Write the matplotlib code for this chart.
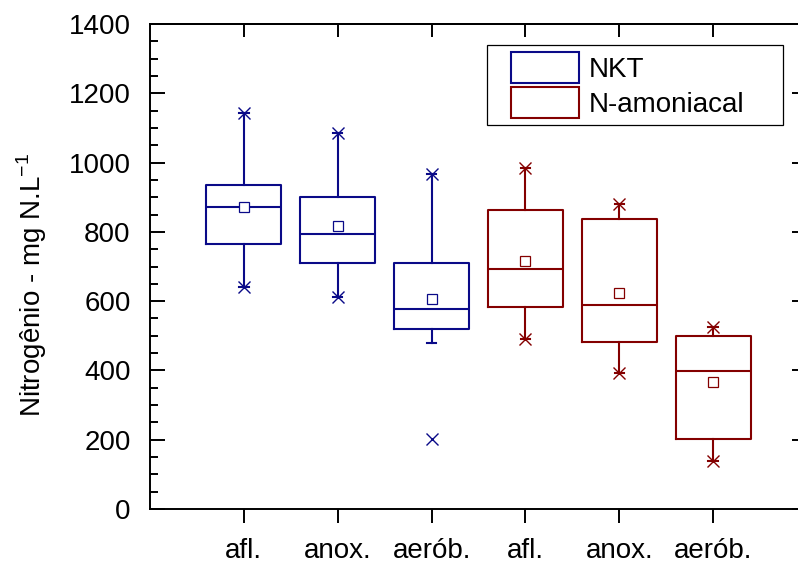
"""
Box plots of total Kjeldahl nitrogen (NKT) and ammonia nitrogen
at the inlet, anoxic and aerobic stages.
"""

import matplotlib
matplotlib.use("Agg")
import matplotlib.pyplot as plt
from matplotlib.patches import Rectangle
from matplotlib.legend_handler import HandlerPatch
from matplotlib.ticker import AutoMinorLocator, MultipleLocator

# ==============================
# DATA
# ==============================
CATEGORIES = ["afl.", "anox.", "aerób.", "afl.", "anox.", "aerób."]
SERIES_NAMES = ["NKT", "N-amoniacal"]

NKT_Q1 = [764, 711, 519]
NKT_MEDIAN = [871, 794, 577]
NKT_Q3 = [935, 900, 711]
NKT_WHISKER_LOW = [642, 611, 478]
NKT_WHISKER_HIGH = [1143, 1085, 966]
NKT_MEAN = [872, 818, 605]
NKT_MIN = [642, 611, 201]
NKT_MAX = [1143, 1085, 966]

AMON_Q1 = [582, 482, 203]
AMON_MEDIAN = [692, 589, 399]
AMON_Q3 = [862, 836, 500]
AMON_WHISKER_LOW = [490, 393, 139]
AMON_WHISKER_HIGH = [984, 881, 525]
AMON_MEAN = [716, 624, 367]
AMON_MIN = [490, 393, 139]
AMON_MAX = [984, 881, 525]

NKT_POSITIONS = [1, 2, 3]
AMON_POSITIONS = [4, 5, 6]

BLUE = "#0a0a88"
RED = "#840000"
FONT_SIZE = 20

plt.rcParams["font.family"] = ["Liberation Sans", "DejaVu Sans"]
plt.rcParams["font.size"] = FONT_SIZE
plt.rcParams["mathtext.fontset"] = "custom"
plt.rcParams["mathtext.rm"] = "Liberation Sans"


def build_stats(q1, med, q3, wlo, whi, mean):
    stats = []
    for i in range(len(q1)):
        stats.append({
            "q1": q1[i], "med": med[i], "q3": q3[i],
            "whislo": wlo[i], "whishi": whi[i],
            "mean": mean[i], "fliers": [],
        })
    return stats


def draw_group(ax, stats, positions, mins, maxs, color):
    line = dict(color=color, linewidth=1.5)
    ax.bxp(stats, positions=positions, widths=0.8, capwidths=0.1,
           showmeans=True, showfliers=False,
           boxprops=line, whiskerprops=line, capprops=line,
           medianprops=line,
           meanprops=dict(marker="s", markersize=6.8, markerfacecolor="white",
                          markeredgecolor=color, markeredgewidth=0.9))
    ax.plot(positions, mins, linestyle="none", marker="x", markersize=8,
            markeredgewidth=1.0, color=color)
    ax.plot(positions, maxs, linestyle="none", marker="x", markersize=8,
            markeredgewidth=1.0, color=color)


def legend_box(legend, orig_handle, xdescent, ydescent, width, height, fontsize):
    inset = 0.6 * fontsize
    return Rectangle((-xdescent + inset, -ydescent), width - inset, height)


fig = plt.figure(figsize=(7.98, 5.65), dpi=100)
ax = fig.add_axes([150 / 798, 56 / 565, 657 / 798, 485 / 565])

draw_group(ax, build_stats(NKT_Q1, NKT_MEDIAN, NKT_Q3, NKT_WHISKER_LOW,
                           NKT_WHISKER_HIGH, NKT_MEAN),
           NKT_POSITIONS, NKT_MIN, NKT_MAX, BLUE)
draw_group(ax, build_stats(AMON_Q1, AMON_MEDIAN, AMON_Q3, AMON_WHISKER_LOW,
                           AMON_WHISKER_HIGH, AMON_MEAN),
           AMON_POSITIONS, AMON_MIN, AMON_MAX, RED)

ax.set_xlim(0, 7)
ax.set_ylim(0, 1400)
ax.set_xticks(NKT_POSITIONS + AMON_POSITIONS)
ax.set_xticklabels(CATEGORIES)
ax.yaxis.set_major_locator(MultipleLocator(200))
ax.yaxis.set_minor_locator(AutoMinorLocator(4))

for spine in ax.spines.values():
    spine.set_linewidth(1.4)

ax.tick_params(axis="y", which="both", direction="in", left=True, right=True,
               width=1.4, pad=14, labelsize=FONT_SIZE)
ax.tick_params(axis="y", which="major", length=11)
ax.tick_params(axis="y", which="minor", length=5.5)
ax.tick_params(axis="x", which="major", direction="out", length=10,
               width=1.4, pad=11, labelsize=FONT_SIZE)

top = ax.secondary_xaxis("top")
top.set_xticks(NKT_POSITIONS + AMON_POSITIONS)
top.tick_params(direction="in", length=9.5, width=1.4, labeltop=False)
top.spines["top"].set_linewidth(1.4)

fig.text(31.5 / 798, 1 - 285 / 565, r"Nitrogênio - mg N.L$^{\mathrm{-1}}$",
         rotation=90, ha="center", va="center", fontsize=FONT_SIZE)

handles = [Rectangle((0, 0), 1, 1, facecolor="white", edgecolor=BLUE, linewidth=1.5),
           Rectangle((0, 0), 1, 1, facecolor="white", edgecolor=RED, linewidth=1.5)]
leg = ax.legend(handles, SERIES_NAMES, loc="upper left",
                bbox_to_anchor=((487 - 150) / 657, 0, 296 / 657, (509 - 45) / 485),
                mode="expand", borderaxespad=0, borderpad=0.26,
                handlelength=3.05, handleheight=1.35, handletextpad=0.36,
                labelspacing=0.12, fancybox=False, framealpha=1,
                edgecolor="black", fontsize=FONT_SIZE,
                handler_map={Rectangle: HandlerPatch(patch_func=legend_box)})
leg.get_frame().set_linewidth(0.9)

fig.savefig("out.png", dpi=100)
